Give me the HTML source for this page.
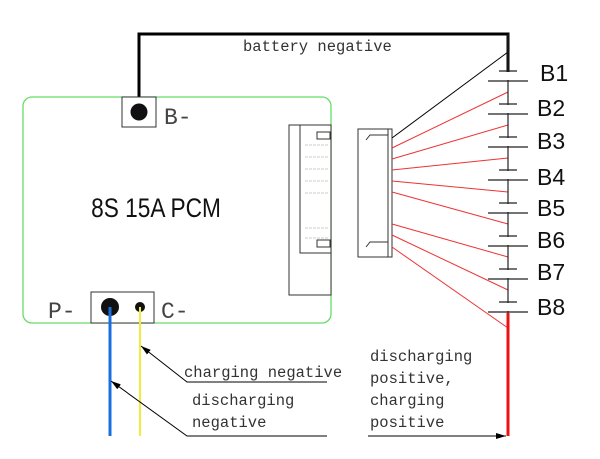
<!DOCTYPE html>
<html><head><style>body{margin:0;background:#fff}svg{display:block}</style></head><body>
<svg width="600" height="459" viewBox="0 0 600 459" xmlns="http://www.w3.org/2000/svg">
<defs><marker id="a" markerWidth="10" markerHeight="6" refX="10" refY="3" orient="auto" markerUnits="userSpaceOnUse"><path d="M0,0L10,3L0,6z" fill="#000"/></marker></defs>
<rect x="23" y="97" width="308" height="226" rx="9" fill="none" stroke="#66dd66" stroke-width="1.3"/>
<polyline points="139,112 139,34 508,34 508,72" fill="none" stroke="#000" stroke-width="3"/>
<text x="243" y="51" font-family="Liberation Mono,monospace" font-size="15.5" fill="#333">battery negative</text>
<rect x="122" y="97" width="34" height="30" fill="#fff" stroke="#333"/>
<circle cx="139" cy="112" r="8.5" fill="#111"/>
<text x="164" y="124" font-family="Liberation Mono,monospace" font-size="23" fill="#444">B-</text>
<text x="156" y="217" text-anchor="middle" font-family="Liberation Sans,sans-serif" font-size="27" fill="#111" transform="translate(156 0) scale(0.84 1) translate(-156 0)">8S 15A PCM</text>
<rect x="289" y="125" width="42" height="170" fill="#fff" stroke="#333"/>
<rect x="300" y="125" width="31" height="128" fill="#fff" stroke="#333"/>
<rect x="317" y="132" width="13" height="7" fill="#fff" stroke="#333"/>
<rect x="317" y="240" width="13" height="7" fill="#fff" stroke="#333"/>
<g stroke="#ccc" stroke-dasharray="3 1"><line x1="305" y1="145" x2="328" y2="145"/><line x1="305" y1="157" x2="328" y2="157"/><line x1="305" y1="169" x2="328" y2="169"/><line x1="305" y1="181" x2="328" y2="181"/><line x1="305" y1="193" x2="328" y2="193"/><line x1="305" y1="228" x2="328" y2="228"/><line x1="305" y1="238" x2="328" y2="238"/></g>
<rect x="358" y="129" width="34" height="128" fill="#fff" stroke="#333"/>
<line x1="388" y1="129" x2="388" y2="257" stroke="#333"/>
<path d="M366,140 L370,135 L388,135" fill="none" stroke="#333"/>
<path d="M366,247 L370,242 L388,242" fill="none" stroke="#333"/>
<line x1="392" y1="138" x2="508" y2="52" stroke="#000"/>
<g stroke="#e33" stroke-width="1">
<line x1="392" y1="148" x2="508" y2="92"/>
<line x1="392" y1="159" x2="508" y2="125"/>
<line x1="392" y1="170" x2="508" y2="158"/>
<line x1="392" y1="181" x2="508" y2="192"/>
<line x1="392" y1="192" x2="508" y2="224"/>
<line x1="392" y1="224" x2="508" y2="257"/>
<line x1="392" y1="235" x2="508" y2="290"/>
<line x1="392" y1="247" x2="508" y2="328"/>
</g>
<g stroke="#222" stroke-width="1.2">
<line x1="508" y1="34" x2="508" y2="313"/>
<line x1="499" y1="71" x2="517" y2="71"/><line x1="488" y1="81" x2="528" y2="81"/>
<line x1="499" y1="104" x2="517" y2="104"/><line x1="488" y1="114" x2="528" y2="114"/>
<line x1="499" y1="137" x2="517" y2="137"/><line x1="488" y1="147" x2="528" y2="147"/>
<line x1="499" y1="170" x2="517" y2="170"/><line x1="488" y1="180" x2="528" y2="180"/>
<line x1="499" y1="203" x2="517" y2="203"/><line x1="488" y1="213" x2="528" y2="213"/>
<line x1="499" y1="236" x2="517" y2="236"/><line x1="488" y1="246" x2="528" y2="246"/>
<line x1="499" y1="269" x2="517" y2="269"/><line x1="488" y1="279" x2="528" y2="279"/>
<line x1="499" y1="302" x2="517" y2="302"/><line x1="488" y1="312" x2="528" y2="312"/>
</g>
<rect x="500" y="72" width="16" height="8" fill="#fff"/><rect x="500" y="105" width="16" height="8" fill="#fff"/><rect x="500" y="138" width="16" height="8" fill="#fff"/><rect x="500" y="171" width="16" height="8" fill="#fff"/><rect x="500" y="204" width="16" height="8" fill="#fff"/><rect x="500" y="237" width="16" height="8" fill="#fff"/><rect x="500" y="270" width="16" height="8" fill="#fff"/><rect x="500" y="303" width="16" height="8" fill="#fff"/>
<g font-family="Liberation Sans,sans-serif" font-size="23" fill="#111">
<text x="540" y="81">B1</text><text x="537" y="116">B2</text><text x="537" y="149">B3</text><text x="537" y="185">B4</text><text x="537" y="216">B5</text><text x="537" y="248">B6</text><text x="537" y="280">B7</text><text x="537" y="315">B8</text>
</g>
<line x1="508" y1="313" x2="508" y2="436" stroke="#e11" stroke-width="3"/>
<rect x="91" y="292" width="63" height="31" fill="#fff" stroke="#333"/>
<circle cx="110" cy="307" r="9" fill="#111"/>
<circle cx="140" cy="307" r="5" fill="#111"/>
<line x1="110" y1="307" x2="110" y2="436" stroke="#1a6fe0" stroke-width="3"/>
<line x1="140" y1="307" x2="140" y2="436" stroke="#f0ee3a" stroke-width="2"/>
<text x="48" y="318" font-family="Liberation Mono,monospace" font-size="23" fill="#444">P-</text>
<text x="161" y="318" font-family="Liberation Mono,monospace" font-size="23" fill="#444">C-</text>
<g stroke="#000" fill="none">
<polyline points="327,382 187,382 141,346" marker-end="url(#a)" stroke-width="1"/>
<polyline points="327,436 187,436 111,381" marker-end="url(#a)" stroke-width="1"/>
<line x1="368" y1="436" x2="506" y2="436" marker-end="url(#a)"/>
</g>
<g font-family="Liberation Mono,monospace" font-size="15.5" fill="#333">
<text x="184" y="377">charging negative</text>
<text x="192" y="405">discharging</text><text x="192" y="427">negative</text>
<text x="370" y="361">discharging</text><text x="370" y="383">positive,</text><text x="370" y="405">charging</text><text x="370" y="427">positive</text>
</g>
</svg>
</body></html>
